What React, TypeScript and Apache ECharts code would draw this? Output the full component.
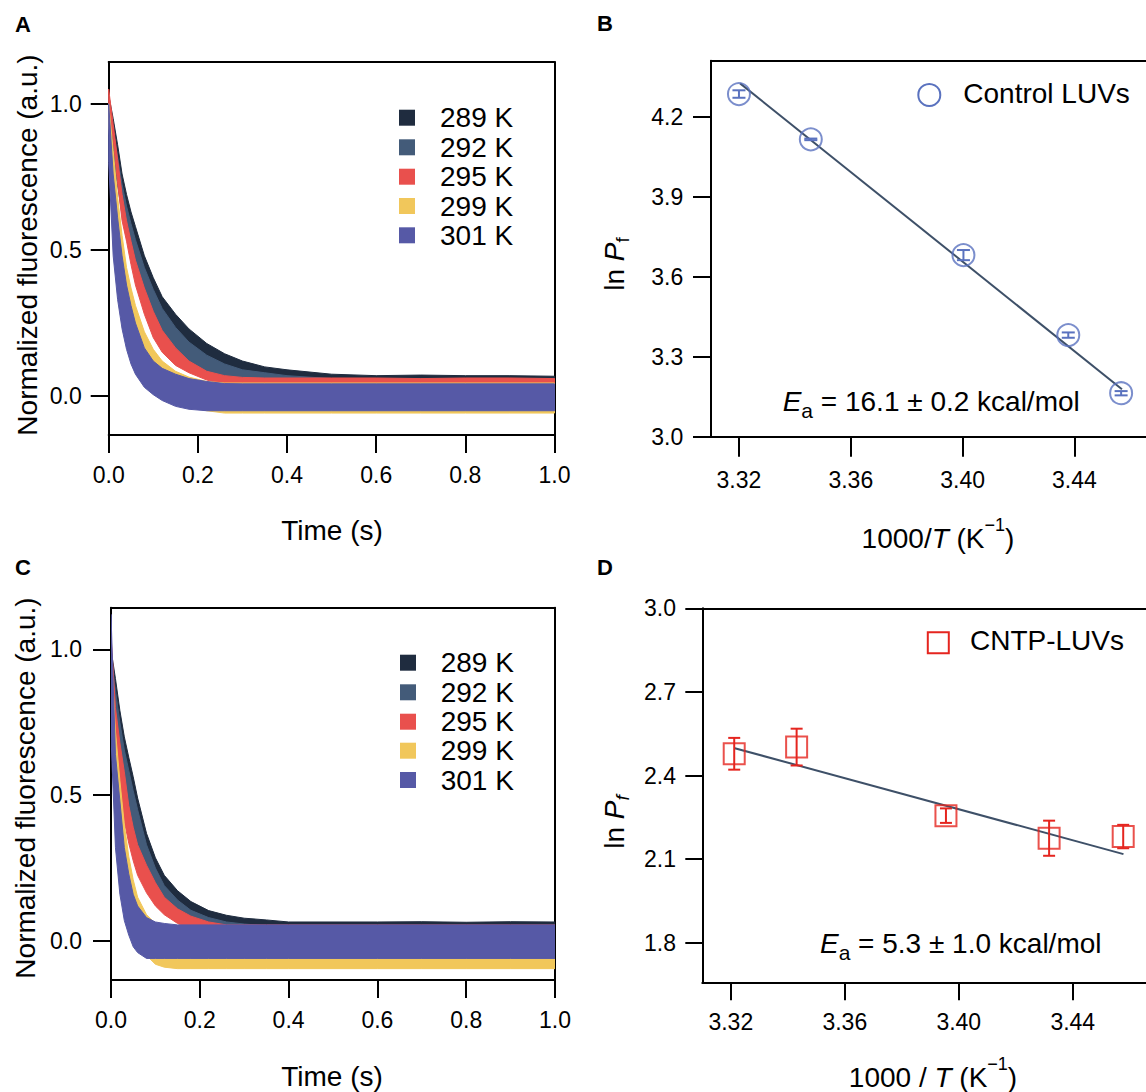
import React, { useEffect, useRef } from "react";
import * as echarts from "echarts";

const FONT = "'Liberation Sans', Arial, Helvetica, sans-serif";

// ---------- Panels A & C: stopped-flow traces (envelopes of dense scatter) ----------
const tempLabels = ["289 K", "292 K", "295 K", "299 K", "301 K"];
const traceColors = ["#1f2c3f", "#435b79", "#e9504d", "#f1c75b", "#5659a6"];
const timeGrid = [0, 0.01, 0.02, 0.03, 0.04, 0.05, 0.06, 0.08, 0.1, 0.12, 0.15, 0.18, 0.22, 0.26, 0.3, 0.35, 0.4, 0.5, 0.6, 0.7, 0.8, 0.9, 1.0];

// Panel A (Control LUVs)
const a289Hi = [1.03, 0.95, 0.86, 0.76, 0.69, 0.63, 0.58, 0.48, 0.405, 0.34, 0.28, 0.23, 0.18, 0.145, 0.12, 0.1, 0.09, 0.075, 0.07, 0.072, 0.07, 0.07, 0.068];
const a289Lo = [0.96, 0.87, 0.78, 0.69, 0.62, 0.555, 0.5, 0.41, 0.34, 0.28, 0.22, 0.17, 0.125, 0.095, 0.07, 0.05, 0.04, 0.02, -0.03, -0.03, -0.03, -0.03, -0.03];
const a292Hi = [1.0, 0.91, 0.82, 0.725, 0.65, 0.59, 0.535, 0.44, 0.365, 0.3, 0.235, 0.185, 0.14, 0.11, 0.09, 0.08, 0.07, 0.06, 0.06, 0.06, 0.06, 0.06, 0.06];
const a292Lo = [0.93, 0.82, 0.72, 0.62, 0.545, 0.48, 0.42, 0.33, 0.26, 0.205, 0.15, 0.11, 0.075, 0.05, 0.035, 0.025, 0.02, 0.0, -0.03, -0.03, -0.03, -0.03, -0.03];
const a295Hi = [1.05, 0.93, 0.81, 0.69, 0.6, 0.53, 0.465, 0.37, 0.29, 0.225, 0.165, 0.12, 0.085, 0.07, 0.064, 0.062, 0.062, 0.062, 0.062, 0.06, 0.062, 0.062, 0.06];
const a295Lo = [0.98, 0.88, 0.73, 0.6, 0.53, 0.45, 0.38, 0.28, 0.2, 0.15, 0.105, 0.08, 0.055, 0.04, 0.03, 0.02, -0.03, -0.03, -0.03, -0.03, -0.03, -0.03, -0.03];
const a299Hi = [1.0, 0.84, 0.68, 0.55, 0.44, 0.37, 0.31, 0.22, 0.16, 0.12, 0.085, 0.065, 0.05, 0.045, 0.045, 0.045, 0.045, 0.045, 0.045, 0.045, 0.045, 0.045, 0.045];
const a299Lo = [0.92, 0.76, 0.6, 0.48, 0.37, 0.3, 0.24, 0.15, 0.08, 0.03, -0.01, -0.035, -0.05, -0.058, -0.058, -0.058, -0.058, -0.058, -0.058, -0.058, -0.058, -0.058, -0.058];
const a301Hi = [1.0, 0.76, 0.61, 0.48, 0.38, 0.31, 0.25, 0.165, 0.12, 0.095, 0.075, 0.06, 0.05, 0.043, 0.042, 0.042, 0.042, 0.042, 0.042, 0.042, 0.042, 0.042, 0.042];
const a301Lo = [0.8, 0.48, 0.33, 0.23, 0.16, 0.11, 0.075, 0.03, 0.005, -0.015, -0.035, -0.045, -0.05, -0.05, -0.05, -0.05, -0.05, -0.05, -0.05, -0.05, -0.05, -0.05, -0.05];

// Panel C (CNTP-LUVs)
const c289Hi = [1.0, 0.9, 0.79, 0.7, 0.63, 0.563, 0.49, 0.369, 0.285, 0.225, 0.172, 0.135, 0.104, 0.088, 0.078, 0.072, 0.065, 0.065, 0.065, 0.066, 0.064, 0.066, 0.065];
const c289Lo = [0.92, 0.8, 0.7, 0.61, 0.54, 0.47, 0.41, 0.3, 0.22, 0.165, 0.115, 0.08, 0.05, 0.035, 0.025, 0.015, 0.01, -0.02, -0.02, -0.02, -0.02, -0.02, -0.02];
const c292Hi = [0.98, 0.86, 0.75, 0.655, 0.585, 0.515, 0.45, 0.33, 0.25, 0.19, 0.14, 0.105, 0.08, 0.065, 0.058, 0.052, 0.05, 0.05, 0.05, 0.05, 0.05, 0.05, 0.05];
const c292Lo = [0.9, 0.74, 0.62, 0.52, 0.44, 0.37, 0.31, 0.21, 0.14, 0.1, 0.065, 0.04, 0.02, 0.01, -0.02, -0.02, -0.02, -0.02, -0.02, -0.02, -0.02, -0.02, -0.02];
const c295Hi = [1.05, 0.8, 0.68, 0.58, 0.465, 0.39, 0.33, 0.26, 0.2, 0.15, 0.11, 0.085, 0.065, 0.055, 0.055, 0.055, 0.055, 0.055, 0.055, 0.055, 0.055, 0.055, 0.055];
const c295Lo = [0.9, 0.62, 0.5, 0.41, 0.335, 0.275, 0.225, 0.165, 0.12, 0.09, 0.06, 0.04, 0.02, 0.0, -0.03, -0.03, -0.03, -0.03, -0.03, -0.03, -0.03, -0.03, -0.03];
const c299Hi = [1.0, 0.72, 0.55, 0.4, 0.29, 0.21, 0.15, 0.09, 0.06, 0.04, 0.03, 0.02, 0.02, 0.02, 0.02, 0.02, 0.02, 0.02, 0.02, 0.02, 0.02, 0.02, 0.02];
const c299Lo = [0.8, 0.5, 0.35, 0.22, 0.13, 0.06, 0.01, -0.05, -0.08, -0.09, -0.095, -0.095, -0.095, -0.095, -0.095, -0.095, -0.095, -0.095, -0.095, -0.095, -0.095, -0.095, -0.095];
const c301Hi = [1.12, 0.64, 0.48, 0.32, 0.23, 0.16, 0.12, 0.08, 0.065, 0.06, 0.055, 0.055, 0.055, 0.055, 0.055, 0.055, 0.055, 0.055, 0.055, 0.055, 0.055, 0.055, 0.055];
const c301Lo = [0.7, 0.32, 0.16, 0.07, 0.02, -0.02, -0.04, -0.06, -0.06, -0.06, -0.06, -0.06, -0.06, -0.06, -0.06, -0.06, -0.06, -0.06, -0.06, -0.06, -0.06, -0.06, -0.06];

const timeTicks = [0, 0.2, 0.4, 0.6, 0.8, 1.0];
const fluorTicks = [0, 0.5, 1.0];

// ---------- Panels B & D: Arrhenius plots ----------
const invTTicks = [3.32, 3.36, 3.4, 3.44];
const lnPfTicksB = [3.0, 3.3, 3.6, 3.9, 4.2];
const lnPfTicksD = [1.8, 2.1, 2.4, 2.7, 3.0];

const ctrlX = [3.32, 3.3457, 3.4003, 3.4378, 3.4567];
const ctrlY = [4.285, 4.115, 3.681, 3.381, 3.163];
const ctrlErr = [0.014, 0.003, 0.019, 0.01, 0.008];
const ctrlFitX = [3.3204, 3.457];
const ctrlFitY = [4.325, 3.178];

const cntpX = [3.3212, 3.3431, 3.3955, 3.4317, 3.4577];
const cntpY = [2.478, 2.502, 2.256, 2.175, 2.181];
const cntpErr = [0.057, 0.066, 0.026, 0.063, 0.042];
const cntpFitX = [3.3214, 3.4578];
const cntpFitY = [2.498, 2.118];

const BLUE = "#5a72bf";
const RED = "#e5251f";
const FIT = "#3e5068";

function bandSeries(name: string, color: string, lo: number[], hi: number[], xi: number, yi: number) {
  const data = timeGrid.map((t, i) => [t, lo[i], hi[i]]);
  return {
    type: "custom",
    name,
    xAxisIndex: xi,
    yAxisIndex: yi,
    clip: true,
    data,
    encode: { x: 0, y: [1, 2] },
    renderItem: (params: any, api: any) => {
      if (params.dataIndex !== 0) return null;
      const pts: number[][] = [];
      for (let i = 0; i < data.length; i++) pts.push(api.coord([data[i][0], data[i][2]]));
      for (let i = data.length - 1; i >= 0; i--) pts.push(api.coord([data[i][0], data[i][1]]));
      return { type: "polygon", shape: { points: pts }, style: { fill: color, stroke: color, lineWidth: 1 } };
    },
  };
}

function errorSeries(xs: number[], ys: number[], errs: number[], color: string, xi: number, yi: number, cap: number) {
  return {
    type: "custom",
    xAxisIndex: xi,
    yAxisIndex: yi,
    data: xs.map((x, i) => [x, ys[i] - errs[i], ys[i] + errs[i]]),
    encode: { x: 0, y: [1, 2] },
    z: 3,
    renderItem: (params: any, api: any) => {
      const x = api.value(0);
      const top = api.coord([x, api.value(2)]);
      const bot = api.coord([x, api.value(1)]);
      const st = { stroke: color, lineWidth: 2 };
      return {
        type: "group",
        children: [
          { type: "line", shape: { x1: top[0], y1: top[1], x2: bot[0], y2: bot[1] }, style: st },
          { type: "line", shape: { x1: top[0] - cap, y1: top[1], x2: top[0] + cap, y2: top[1] }, style: st },
          { type: "line", shape: { x1: bot[0] - cap, y1: bot[1], x2: bot[0] + cap, y2: bot[1] }, style: st },
        ],
      };
    },
  };
}

const axisLine = { show: true, onZero: false, lineStyle: { color: "#000", width: 2 } };
const tick = (len: number, custom?: number[]) => ({ show: true, inside: false, length: len, customValues: custom, lineStyle: { color: "#000", width: 2 } });
const label = (margin: number, digits: number, custom?: number[]) => ({
  show: true,
  margin,
  color: "#000",
  fontSize: 23,
  fontFamily: FONT,
  customValues: custom,
  formatter: (v: number) => Number(v).toFixed(digits),
});
const frameOnly = { axisLine, axisTick: { show: false }, axisLabel: { show: false }, splitLine: { show: false } };

function rt(size: number, extra: any = {}) {
  return { fontSize: size, fontFamily: FONT, fill: "#000", ...extra };
}

function txt(x: number, y: number, text: string, size: number, opts: any = {}) {
  return {
    type: "text",
    x,
    y,
    rotation: opts.rotation || 0,
    style: {
      text,
      fontSize: size,
      fontFamily: FONT,
      fontWeight: opts.bold ? "bold" : "normal",
      fill: "#000",
      align: opts.align || "center",
      verticalAlign: "middle",
      rich: opts.rich,
    },
  };
}

function buildOption() {
  const aLo = [a289Lo, a292Lo, a295Lo, a299Lo, a301Lo];
  const aHi = [a289Hi, a292Hi, a295Hi, a299Hi, a301Hi];
  const cLo = [c289Lo, c292Lo, c295Lo, c299Lo, c301Lo];
  const cHi = [c289Hi, c292Hi, c295Hi, c299Hi, c301Hi];

  const series: any[] = [];
  tempLabels.forEach((n, i) => series.push(bandSeries(n, traceColors[i], aLo[i], aHi[i], 0, 0)));
  tempLabels.forEach((n, i) => series.push(bandSeries(n, traceColors[i], cLo[i], cHi[i], 4, 3)));

  series.push({
    type: "line", xAxisIndex: 2, yAxisIndex: 2, symbol: "none", z: 2,
    data: ctrlFitX.map((x, i) => [x, ctrlFitY[i]]),
    lineStyle: { color: FIT, width: 2 },
  });
  series.push(errorSeries(ctrlX, ctrlY, ctrlErr, BLUE, 2, 2, 6.5));
  series.push({
    type: "scatter", name: "Control LUVs", xAxisIndex: 2, yAxisIndex: 2, symbol: "circle", symbolSize: 22, z: 4,
    data: ctrlX.map((x, i) => [x, ctrlY[i]]),
    itemStyle: { color: "rgba(0,0,0,0)", borderColor: BLUE, borderWidth: 2 },
  });

  series.push({
    type: "line", xAxisIndex: 6, yAxisIndex: 5, symbol: "none", z: 2,
    data: cntpFitX.map((x, i) => [x, cntpFitY[i]]),
    lineStyle: { color: FIT, width: 2 },
  });
  series.push(errorSeries(cntpX, cntpY, cntpErr, RED, 6, 5, 6));
  series.push({
    type: "scatter", name: "CNTP-LUVs", xAxisIndex: 6, yAxisIndex: 5, symbol: "rect", symbolSize: 21, z: 4,
    data: cntpX.map((x, i) => [x, cntpY[i]]),
    itemStyle: { color: "rgba(0,0,0,0)", borderColor: RED, borderWidth: 2 },
  });

  const graphic: any[] = [];
  // panel letters
  graphic.push(txt(23, 24.5, "A", 22, { bold: true }));
  graphic.push(txt(605, 23, "B", 22, { bold: true }));
  graphic.push(txt(23, 567, "C", 22, { bold: true }));
  graphic.push(txt(605, 567, "D", 22, { bold: true }));

  // legends A & C
  const legA = [117.7, 147.3, 176.7, 206, 235.3];
  const legC = [662.7, 692.3, 721.7, 750.7, 780];
  tempLabels.forEach((n, i) => {
    graphic.push({ type: "rect", shape: { x: 399, y: legA[i] - 8, width: 16, height: 16 }, style: { fill: traceColors[i] } });
    graphic.push(txt(440, legA[i], n, 28, { align: "left" }));
    graphic.push({ type: "rect", shape: { x: 400, y: legC[i] - 8, width: 16, height: 16 }, style: { fill: traceColors[i] } });
    graphic.push(txt(440.7, legC[i], n, 28, { align: "left" }));
  });

  // legends B & D
  graphic.push({ type: "circle", shape: { cx: 929.3, cy: 95, r: 11 }, style: { fill: "none", stroke: BLUE, lineWidth: 2 } });
  graphic.push(txt(963.3, 93.3, "Control LUVs", 28, { align: "left" }));
  graphic.push({ type: "rect", shape: { x: 927.8, y: 632.2, width: 21, height: 21 }, style: { fill: "none", stroke: RED, lineWidth: 2 } });
  graphic.push(txt(970, 640.7, "CNTP-LUVs", 28, { align: "left" }));

  // axis titles A & C
  const yTitle = "Normalized fluorescence (a.u.)";
  graphic.push(txt(332, 530, "Time (s)", 28));
  graphic.push(txt(27, 245, yTitle, 28, { rotation: Math.PI / 2 }));
  graphic.push(txt(332, 1076, "Time (s)", 28));
  graphic.push(txt(25, 788, yTitle, 28, { rotation: Math.PI / 2 }));

  // axis titles B & D (rich text)
  const richTitle = {
    n: rt(28),
    i: rt(28, { fontStyle: "italic" }),
    sup: rt(18, { padding: [0, 0, 26, 0] }),
    sub: rt(19, { padding: [16, 0, 0, 0] }),
    subi: rt(19, { fontStyle: "italic", padding: [16, 0, 0, 0] }),
  };
  graphic.push(txt(938, 538, "{n|1000/}{i|T}{n| (K}{sup|\u22121}{n|)}", 28, { rich: richTitle }));
  graphic.push(txt(933, 1077, "{n|1000 / }{i|T}{n| (K}{sup|\u22121}{n|)}", 28, { rich: richTitle }));
  graphic.push(txt(614, 264, "{n|ln }{i|P}{sub|f}", 28, { rich: richTitle, rotation: Math.PI / 2 }));
  graphic.push(txt(614, 822, "{n|ln }{i|P}{subi|f}", 28, { rich: richTitle, rotation: Math.PI / 2 }));

  // activation energies
  const richEa = {
    n: rt(28),
    i: rt(28, { fontStyle: "italic" }),
    sub: rt(21, { padding: [18, 0, 0, 0] }),
  };
  graphic.push(txt(782.7, 401.7, "{i|E}{sub|a}{n| = 16.1 \u00b1 0.2 kcal/mol}", 28, { rich: richEa, align: "left" }));
  graphic.push(txt(820, 943.3, "{i|E}{sub|a}{n| = 5.3 \u00b1 1.0 kcal/mol}", 28, { rich: richEa, align: "left" }));

  return {
    animation: false,
    backgroundColor: "#fff",
    grid: [
      { left: 108.7, top: 62, width: 445.8, height: 373 },
      { left: 711, top: 60.7, width: 435, height: 376 },
      { left: 111, top: 607.7, width: 444, height: 372.3 },
      { left: 702.3, top: 608.3, width: 443.7, height: 374 },
    ],
    xAxis: [
      { type: "value", gridIndex: 0, position: "bottom", min: 0, max: 1, axisLine, axisTick: tick(18, timeTicks), axisLabel: label(28, 1, timeTicks), splitLine: { show: false } },
      { type: "value", gridIndex: 0, position: "top", min: 0, max: 1, ...frameOnly },
      { type: "value", gridIndex: 1, position: "bottom", min: 3.31, max: 3.4656, axisLine, axisTick: tick(20, invTTicks), axisLabel: label(32, 2, invTTicks), splitLine: { show: false } },
      { type: "value", gridIndex: 1, position: "top", min: 3.31, max: 3.4656, ...frameOnly },
      { type: "value", gridIndex: 2, position: "bottom", min: 0, max: 1, axisLine, axisTick: tick(18, timeTicks), axisLabel: label(28.5, 1, timeTicks), splitLine: { show: false } },
      { type: "value", gridIndex: 2, position: "top", min: 0, max: 1, ...frameOnly },
      { type: "value", gridIndex: 3, position: "bottom", min: 3.31, max: 3.4657, axisLine, axisTick: tick(18, invTTicks), axisLabel: label(28, 2, invTTicks), splitLine: { show: false } },
      { type: "value", gridIndex: 3, position: "top", min: 3.31, max: 3.4657, ...frameOnly },
    ],
    yAxis: [
      { type: "value", gridIndex: 0, position: "left", min: -0.133, max: 1.143, axisLine, axisTick: tick(18, fluorTicks), axisLabel: label(27, 1, fluorTicks), splitLine: { show: false } },
      { type: "value", gridIndex: 0, position: "right", min: -0.133, max: 1.143, ...frameOnly },
      { type: "value", gridIndex: 1, position: "left", min: 3.0, max: 4.41, axisLine, axisTick: tick(18, lnPfTicksB), axisLabel: label(27.7, 1, lnPfTicksB), splitLine: { show: false } },
      { type: "value", gridIndex: 2, position: "left", min: -0.134, max: 1.143, axisLine, axisTick: tick(18, fluorTicks), axisLabel: label(29, 1, fluorTicks), splitLine: { show: false } },
      { type: "value", gridIndex: 2, position: "right", min: -0.134, max: 1.143, ...frameOnly },
      { type: "value", gridIndex: 3, position: "left", min: 1.658, max: 3.0, axisLine, axisTick: tick(17, lnPfTicksD), axisLabel: label(26.3, 1, lnPfTicksD), splitLine: { show: false } },
    ],
    series,
    graphic,
  };
}

export default function App() {
  const ref = useRef<HTMLDivElement>(null);
  useEffect(() => {
    const chart = echarts.init(ref.current as HTMLDivElement, null, { renderer: "svg" });
    chart.setOption(buildOption() as any);
    return () => chart.dispose();
  }, []);
  return (
    <div
      ref={ref}
      style={{ position: "absolute", left: 0, top: 0, width: 1146, height: 1092, background: "#fff" }}
    />
  );
}
